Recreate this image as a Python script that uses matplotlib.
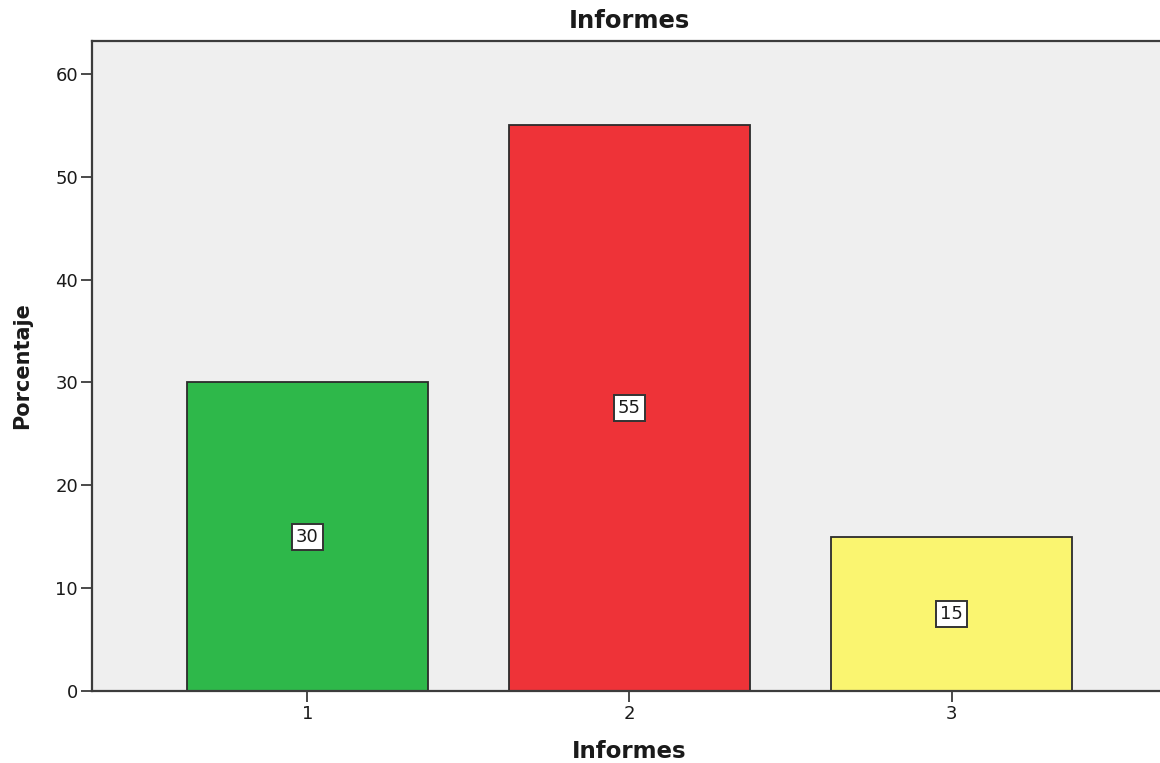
import matplotlib.pyplot as plt

plt.rcParams["font.family"] = ["DejaVu Sans"]

categories = ["1", "2", "3"]
positions = [1, 2, 3]
percent = [30, 55, 15]
bar_colors = ["#2EB84A", "#EE3338", "#FAF570"]

BG_COLOR = "#EFEFEF"
EDGE_COLOR = "#2B2B2B"
AXIS_COLOR = "#3C3C3C"
TEXT_COLOR = "#1A1A1A"

fig = plt.figure(figsize=(11.6, 7.63), dpi=100)
ax = fig.add_axes([0.0793, 0.0944, 0.9267, 0.852])
ax.set_facecolor(BG_COLOR)

ax.bar(positions, percent, width=0.748, color=bar_colors, edgecolor=EDGE_COLOR, linewidth=1.3, zorder=2)

# value labels in white boxes, placed at half bar height
for x, v in zip(positions, percent):
    ax.text(x, v / 2, str(v), ha="center", va="center", fontsize=13, color=TEXT_COLOR, zorder=3,
            bbox=dict(boxstyle="square,pad=0.22", facecolor="white", edgecolor="#333333", linewidth=1.4))

ax.set_xlim(0.331, 3.669)
ax.set_ylim(0, 63.2)
ax.set_xticks(positions)
ax.set_xticklabels(categories)
ax.set_yticks([0, 10, 20, 30, 40, 50, 60])

ax.set_title("Informes", fontsize=17.5, weight="bold", color=TEXT_COLOR, pad=9)
ax.set_xlabel("Informes", fontsize=16.5, weight="bold", color=TEXT_COLOR, labelpad=12)
ax.set_ylabel("Porcentaje", fontsize=15, weight="bold", color=TEXT_COLOR, labelpad=17)

ax.tick_params(axis="both", direction="out", length=8, width=1.3, color=AXIS_COLOR, labelsize=13, labelcolor=TEXT_COLOR)
ax.tick_params(axis="x", pad=2)
ax.tick_params(axis="y", pad=2)
ax.spines["right"].set_visible(False)
for spine in ["left", "bottom", "top"]:
    ax.spines[spine].set_color(AXIS_COLOR)
    ax.spines[spine].set_linewidth(1.6)

fig.savefig("out.png", dpi=100)
